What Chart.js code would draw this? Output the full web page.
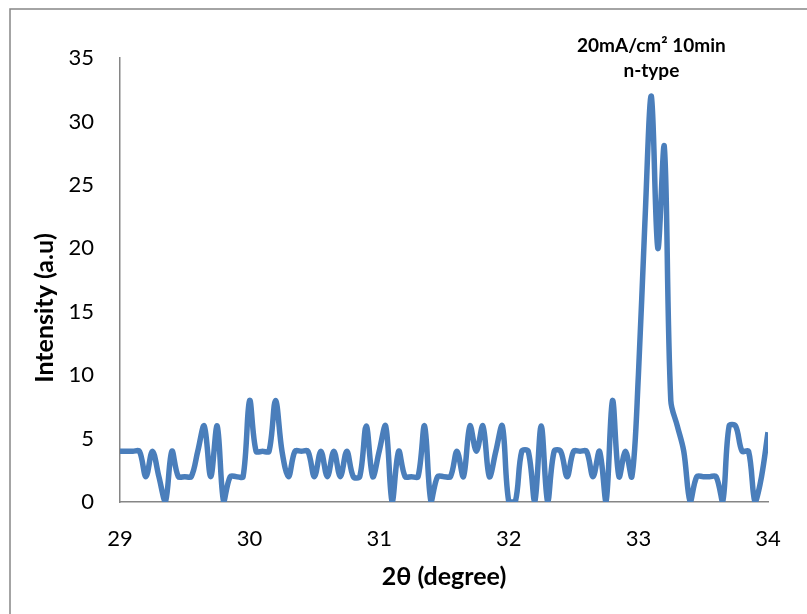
<!DOCTYPE html>
<html>
<head>
<meta charset="utf-8">
<script src="https://cdn.jsdelivr.net/npm/chart.js@4.4.1/dist/chart.umd.min.js"></script>
<style>
  html, body { margin: 0; padding: 0; background: #fff; overflow: hidden; }
  canvas { display: block; }
</style>
</head>
<body>
<canvas id="xrdChart" width="807" height="614"></canvas>
<script>
// 2θ positions (degree) and measured intensity
const twoTheta = [
  29.00, 29.05, 29.10, 29.15, 29.20, 29.25, 29.30, 29.35, 29.40, 29.45,
  29.50, 29.55, 29.60, 29.65, 29.70, 29.75, 29.80, 29.85, 29.90, 29.95,
  30.00, 30.05, 30.10, 30.15, 30.20, 30.25, 30.30, 30.35, 30.40, 30.45,
  30.50, 30.55, 30.60, 30.65, 30.70, 30.75, 30.80, 30.85, 30.90, 30.95,
  31.00, 31.05, 31.10, 31.15, 31.20, 31.25, 31.30, 31.35, 31.40, 31.45,
  31.50, 31.55, 31.60, 31.65, 31.70, 31.75, 31.80, 31.85, 31.90, 31.95,
  32.00, 32.05, 32.10, 32.15, 32.20, 32.25, 32.30, 32.35, 32.40, 32.45,
  32.50, 32.55, 32.60, 32.65, 32.70, 32.75, 32.80, 32.85, 32.90, 32.95,
  33.00, 33.05, 33.10, 33.15, 33.20, 33.25, 33.30, 33.35, 33.40, 33.45,
  33.50, 33.55, 33.60, 33.65, 33.70, 33.75, 33.80, 33.85, 33.90, 33.95,
  34.00
];
const intensity = [
  4, 4, 4, 4, 2, 4, 2, 0, 4, 2,
  2, 2, 4, 6, 2, 6, 0, 2, 2, 2,
  8, 4, 4, 4, 8, 4, 2, 4, 4, 4,
  2, 4, 2, 4, 2, 4, 2, 2, 6, 2,
  4, 6, 0, 4, 2, 2, 2, 6, 0, 2,
  2, 2, 4, 2, 6, 4, 6, 2, 4, 6,
  0, 0, 4, 4, 0, 6, 0, 4, 4, 2,
  4, 4, 4, 2, 4, 0, 8, 2, 4, 2,
  10, 22, 32, 20, 28, 8, 6, 4, 0, 2,
  2, 2, 2, 0, 6, 6, 4, 4, 0, 2,
  5.5
];

const labelLines = ['20mA/cm\u00B2 10min', 'n-type'];
const labelAt = 33.1;
const xTitle = '2\u03B8 (degree)';
const yTitle = 'Intensity (a.u)';

const FONT = 'Lato, "Open Sans", sans-serif';
const AXIS_COLOR = '#868686';

// frame, y title and the peak label
const extras = {
  id: 'extras',
  beforeDraw(chart) {
    const ctx = chart.ctx;
    ctx.save();
    ctx.strokeStyle = AXIS_COLOR;
    ctx.lineWidth = 1.5;
    ctx.strokeRect(10, 9, 1000, 1000);
    ctx.restore();
  },
  afterDraw(chart) {
    const { ctx, scales: { x } } = chart;
    ctx.save();
    ctx.fillStyle = '#000';
    ctx.textAlign = 'center';
    ctx.textBaseline = 'alphabetic';
    ctx.font = 'bold 19px ' + FONT;
    const cx = x.getPixelForValue(labelAt);
    ctx.fillText(labelLines[0], cx, 52);
    ctx.fillText(labelLines[1], cx, 77);

    ctx.translate(45, 308);
    ctx.rotate(-Math.PI / 2);
    ctx.textBaseline = 'middle';
    ctx.font = 'bold 25px ' + FONT;
    ctx.fillText(yTitle, 0, 0);
    ctx.restore();
  }
};

const ctx = document.getElementById('xrdChart').getContext('2d');
const xrdChart = new Chart(ctx, {
  type: 'line',
  data: {
    datasets: [{
      label: 'n-type',
      data: twoTheta.map((t, i) => ({ x: t, y: intensity[i] })),
      borderColor: '#4A7EBB',
      borderWidth: 5.5,
      pointRadius: 0,
      fill: false,
      tension: 0.35
    }]
  },
  options: {
    responsive: false,
    animation: false,
    layout: { padding: { top: 58, right: 39, left: 0, bottom: 0 } },
    plugins: {
      legend: { display: false },
      tooltip: { enabled: false }
    },
    scales: {
      x: {
        type: 'linear',
        min: 29,
        max: 34,
        grid: { display: false, drawTicks: false },
        border: { display: true, color: AXIS_COLOR, width: 1.5 },
        ticks: { stepSize: 1, padding: 24, color: '#000', font: { family: FONT, size: 22 } },
        title: { display: true, text: xTitle, color: '#000', font: { family: FONT, size: 25, weight: 'bold' }, padding: { top: 0, bottom: 22 } },
        afterFit: scale => { scale.height = 112; }
      },
      y: {
        min: 0,
        max: 35,
        grid: { display: false, drawTicks: false },
        border: { display: true, color: AXIS_COLOR, width: 1.5 },
        ticks: { stepSize: 5, padding: 26, color: '#000', font: { family: FONT, size: 22 } },
        afterFit: scale => { scale.width = 120; }
      }
    }
  },
  plugins: [extras]
});
</script>
</body>
</html>
